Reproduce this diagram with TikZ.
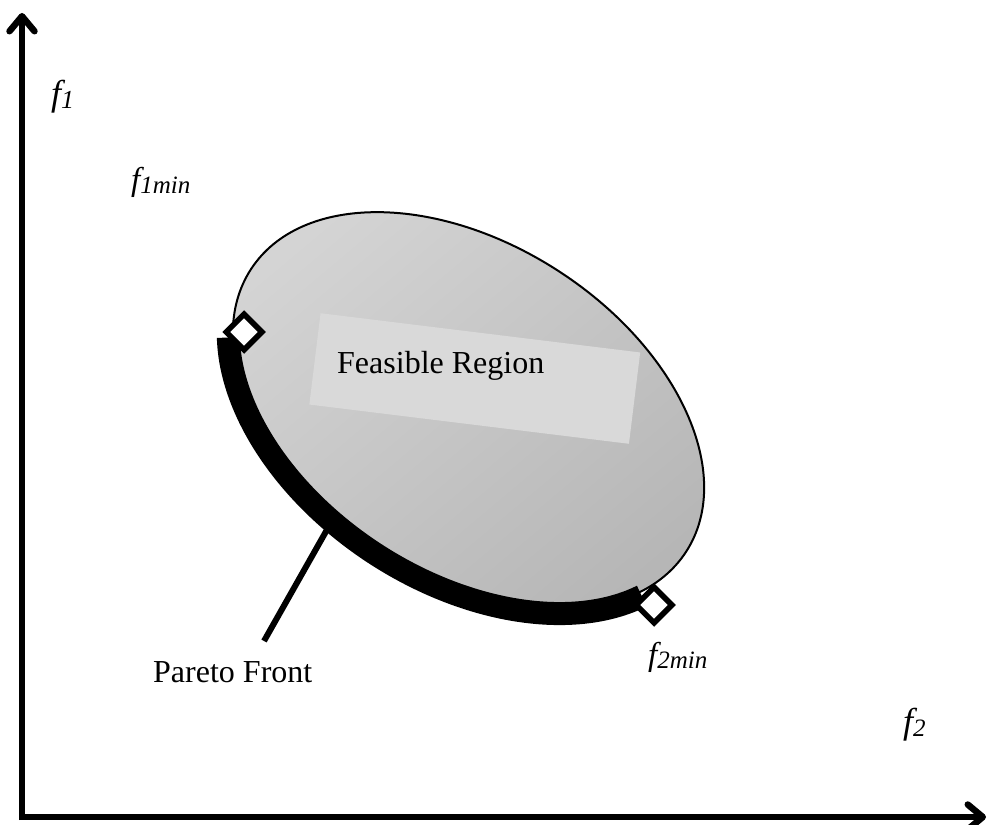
\documentclass[tikz,border=0pt]{standalone}
\usepackage{fontspec}
\setmainfont{Liberation Serif}
\usetikzlibrary{arrows.meta,shapes.geometric}
\definecolor{frbox}{HTML}{D9D9D9}
\definecolor{elllight}{HTML}{D4D4D4}
\definecolor{elldark}{HTML}{B6B6B6}
\begin{document}
\begin{tikzpicture}[x=1pt,y=-1pt,
  axisline/.style={line width=6.5pt,-{Straight Barb[length=15pt,width=25pt,line width=6.5pt,round]}},
  marker/.style={diamond,draw=black,fill=white,line width=5.5pt,minimum size=38pt,inner sep=0pt},
  lbl/.style={font=\fontsize{32}{32}\selectfont,anchor=base west,inner sep=0pt},
  flbl/.style={anchor=base west,inner sep=0pt}]
\useasboundingbox (0,0) rectangle (992,824);
% axes
\coordinate (Oy) at (22,820);
\coordinate (Ox) at (19,817);
\coordinate (ytip) at (22,13);
\coordinate (xtip) at (986,817);
\draw[axisline] (Oy) -- (ytip);
\draw[axisline] (Ox) -- (xtip);
% feasible region
\shadedraw[top color=elllight,bottom color=elldark,shading angle=40,line width=2pt,
  rotate around={-33:(468.5,410.5)}] (468.5,410.5) ellipse [x radius=259.4, y radius=166];
\node[rotate=-7,fill=frbox,minimum width=322pt,minimum height=92pt,inner sep=0pt] (frrect) at (474.75,378.5) {};
\node[lbl] (frtext) at (337,373) {Feasible Region};
% pareto front
\begin{scope}[shift={(468.5,410.5)},rotate=-33]
\draw[line width=23pt] plot[domain=21:156,samples=100] ({264*cos(\x)},{171*sin(\x)});
\end{scope}
\node[marker] (d1) at (244,332) {};
\node[marker] (d2) at (654,605) {};
\coordinate (ptrtop) at (337,512);
\coordinate (ptrbot) at (264,641);
\draw[line width=6pt] (ptrtop) -- (ptrbot);
\node[lbl] (ptext) at (153,682) {Pareto Front};
% labels
\node[flbl] (f1) at (51,106) {\fontsize{36}{36}\selectfont\itshape f\raisebox{-3pt}{\fontsize{26}{26}\selectfont 1}};
\node[flbl] (f1min) at (131,190) {\fontsize{33}{33}\selectfont\itshape f\raisebox{-3pt}{\fontsize{25}{25}\selectfont 1min}};
\node[flbl] (f2min) at (648,665) {\fontsize{33}{33}\selectfont\itshape f\raisebox{-3pt}{\fontsize{25}{25}\selectfont 2min}};
\node[flbl] (f2) at (903,733) {\fontsize{36}{36}\selectfont\itshape f\raisebox{-3pt}{\fontsize{25}{25}\selectfont 2}};
\end{tikzpicture}
\end{document}
